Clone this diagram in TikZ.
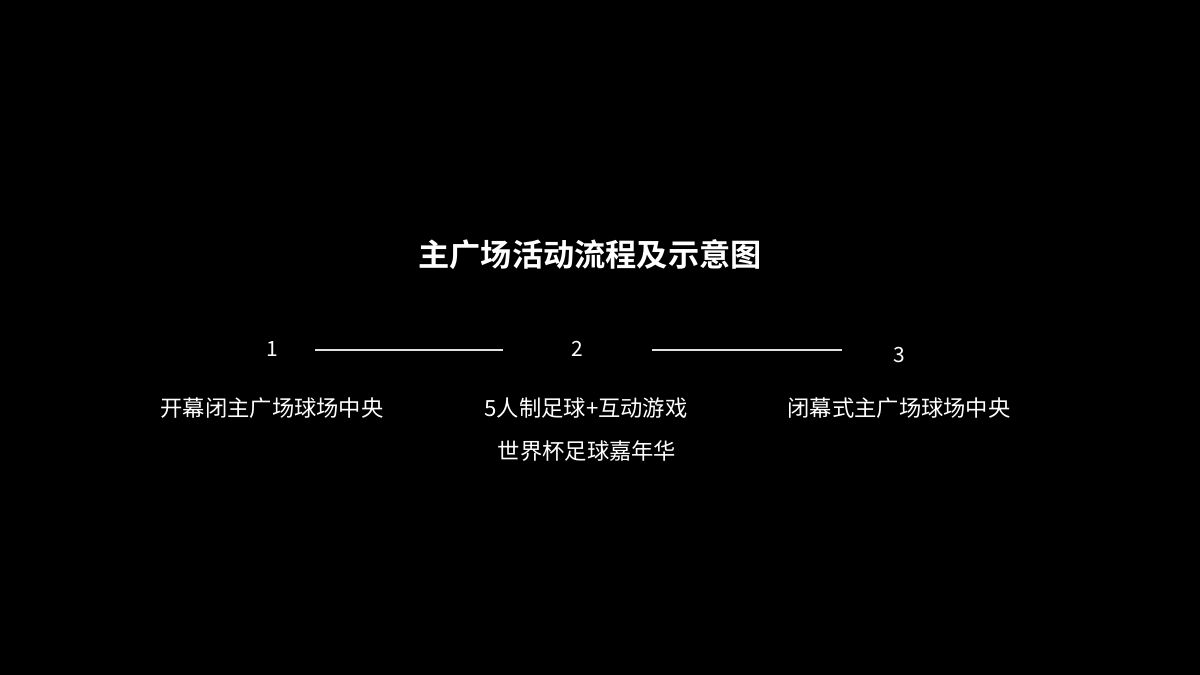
\documentclass[tikz,border=0pt]{standalone}
\usepackage{fontspec}
\setmainfont{Noto Sans CJK SC}
\newfontfamily\cjkbold{Noto Sans CJK SC Bold}
\begin{document}
\begin{tikzpicture}[x=1pt,y=-1pt,
  lbl/.style={text=white,inner sep=0pt,font=\fontsize{22.3}{26}\selectfont},
  num/.style={text=white,inner sep=0pt,font=\fontsize{21}{24}\selectfont},
  conn/.style={draw=white!88!black,line width=1.3pt}]
\fill[black] (0,0) rectangle (1200,675);
\useasboundingbox (0,0) rectangle (1200,675);
\node[text=white,inner sep=0pt,font=\cjkbold\fontsize{31.2}{36}\selectfont] (title) at (590,255) {主广场活动流程及示意图};
\node[num] (n1) at (272,349) {1};
\node[num] (n2) at (577,349) {2};
\node[num] (n3) at (899,355) {3};
\coordinate (a1) at (315,350);
\coordinate (b1) at (503,350);
\coordinate (a2) at (652,350);
\coordinate (b2) at (842,350);
\draw[conn] (a1) -- (b1);
\draw[conn] (a2) -- (b2);
\node[lbl] (l1) at (272,408) {开幕闭主广场球场中央};
\node[lbl] (l2) at (586,408) {5人制足球+互动游戏};
\node[lbl] (l2b) at (587,451) {世界杯足球嘉年华};
\node[lbl] (l3) at (899,408) {闭幕式主广场球场中央};
\end{tikzpicture}
\end{document}
